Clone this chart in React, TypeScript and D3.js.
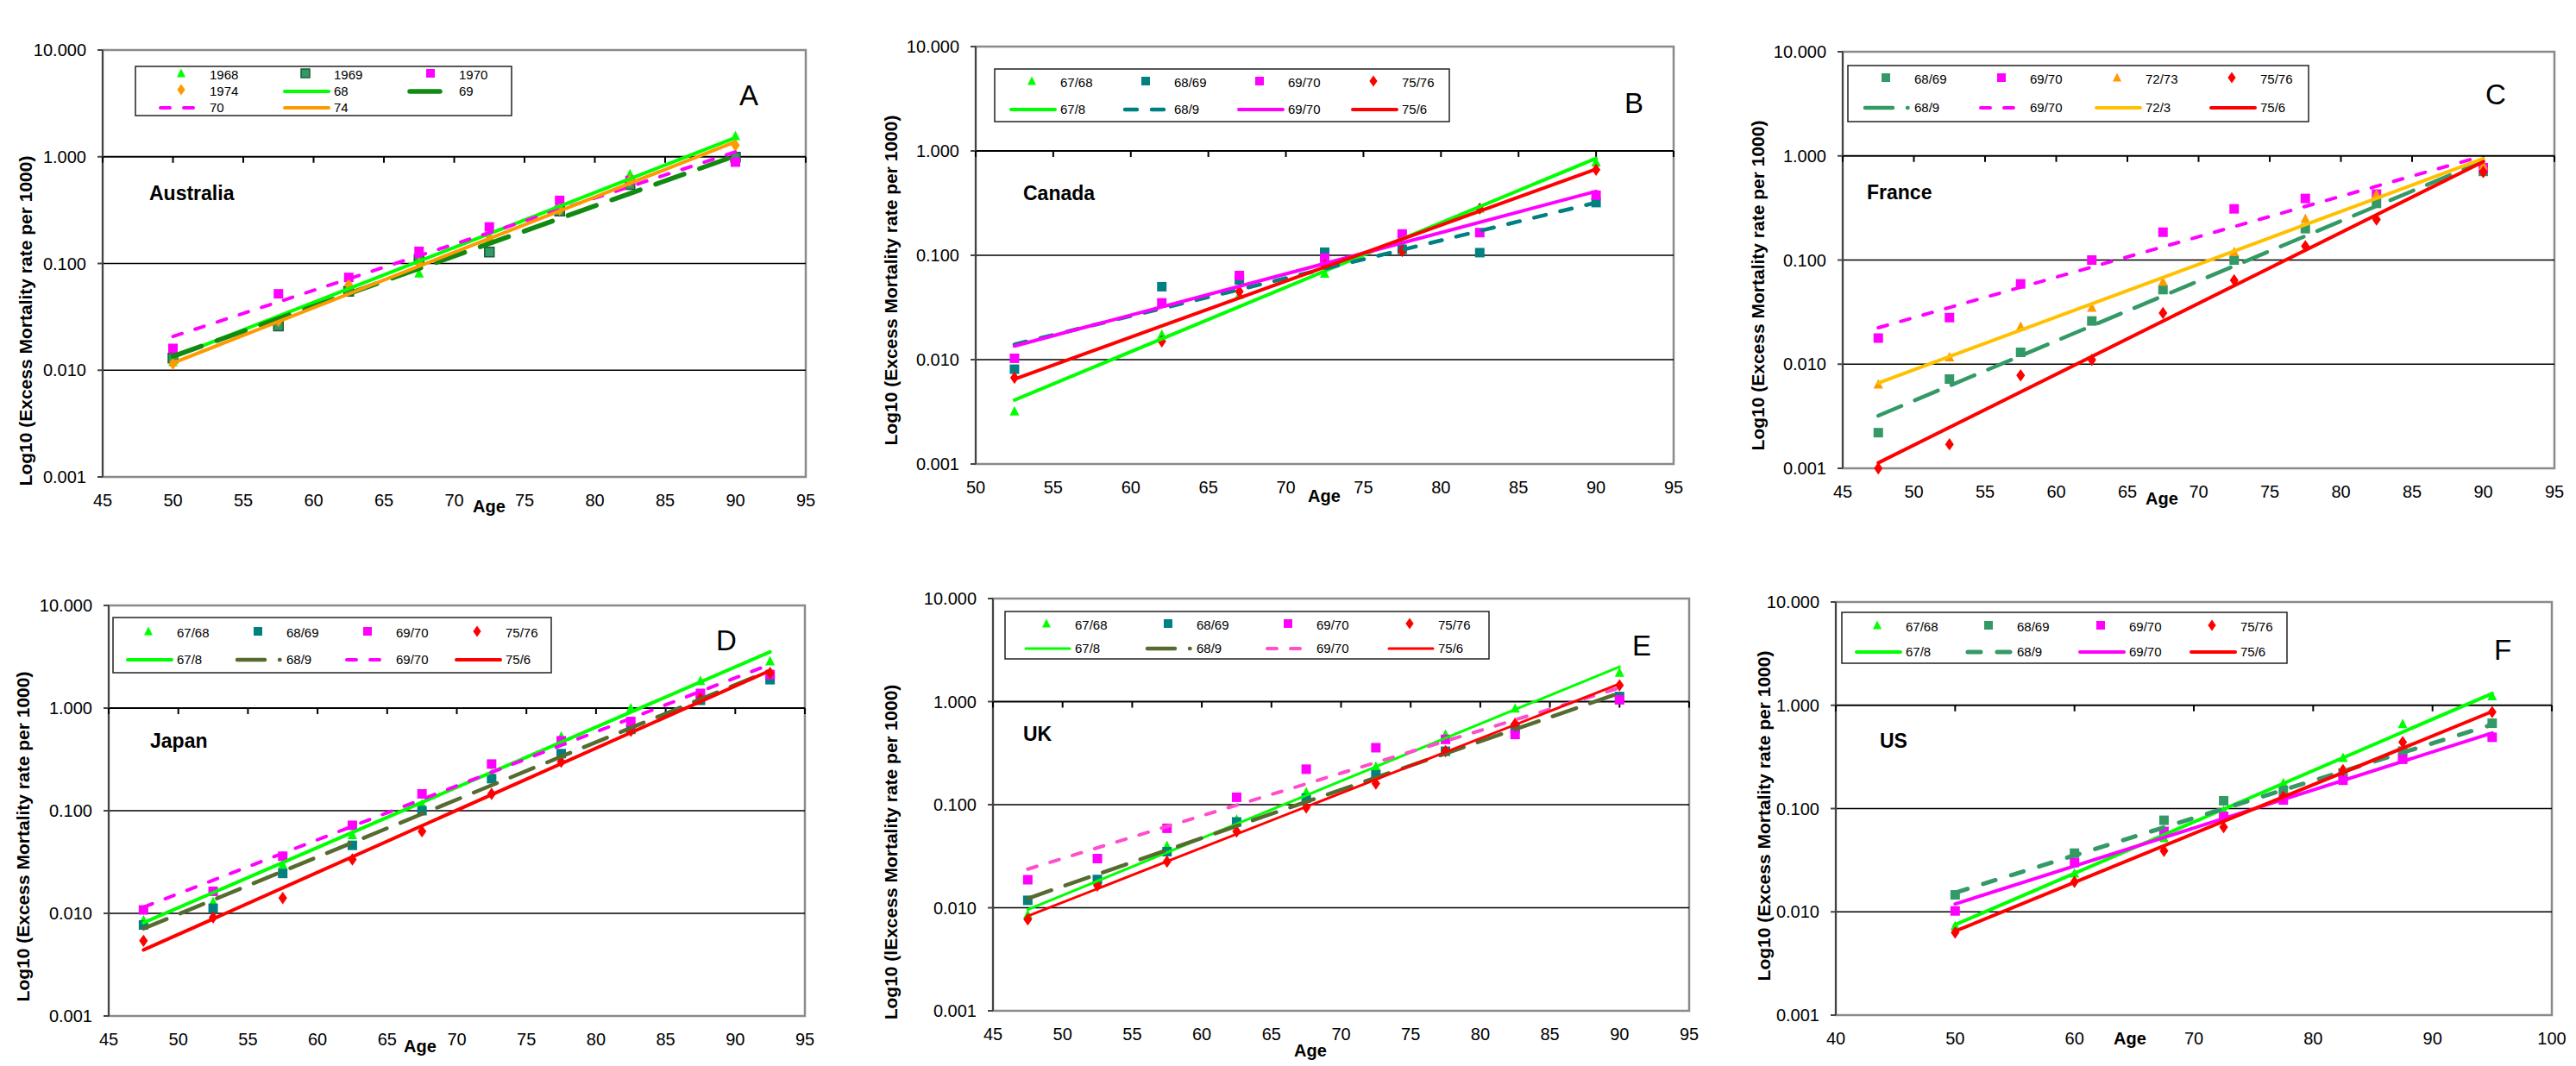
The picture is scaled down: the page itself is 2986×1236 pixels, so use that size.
import React, { useEffect } from 'react';
import * as d3 from 'd3';

const FONT = '"Liberation Sans", Arial, Helvetica, sans-serif';

// colours
const GREEN = '#00FF00';
const SEA = '#339966';
const DKGREEN = '#118A11';
const TEAL = '#008080';
const MAG = '#FF00FF';
const PINK = '#FF4DCC';
const RED = '#FF0000';
const ORANGE = '#FF9900';
const GOLD = '#FFC000';
const OLIVE = '#556B2F';

const yTicks = [0.001, 0.01, 0.1, 1, 10];
const ticks45 = [45, 50, 55, 60, 65, 70, 75, 80, 85, 90, 95];
const ticks50 = [50, 55, 60, 65, 70, 75, 80, 85, 90, 95];
const ticks40 = [40, 50, 60, 70, 80, 90, 100];

// A - Australia
const ausAges = [50, 57.5, 62.5, 67.5, 72.5, 77.5, 82.5, 90];
const aus1968 = [0.012, 0.028, 0.06, 0.081, 0.18, 0.33, 0.69, 1.57];
const aus1969 = [0.013, 0.026, 0.055, 0.11, 0.128, 0.31, 0.55, 0.99];
const aus1970 = [0.016, 0.052, 0.074, 0.13, 0.22, 0.39, 0.6, 0.89];
const aus1974 = [0.0115, 0.029, 0.063, 0.1, 0.166, 0.32, 0.6, 1.28];
const ausFitAges = [50, 90];
const ausFit68 = [0.0132, 1.51];
const ausFit69 = [0.0135, 1.02];
const ausFit70 = [0.0207, 1.11];
const ausFit74 = [0.0117, 1.38];

// B - Canada
const canAges = [52.5, 62, 67, 72.5, 77.5, 82.5, 90];
const can6768 = [0.0032, 0.0174, 0.042, 0.067, 0.13, 0.28, 0.78];
const can6869 = [0.0081, 0.05, 0.058, 0.107, 0.114, 0.106, 0.32];
const can6970 = [0.0103, 0.035, 0.064, 0.094, 0.16, 0.165, 0.376];
const can7576 = [0.0067, 0.015, 0.045, 0.08, 0.11, 0.28, 0.66];
const canFitAges = [52.5, 90];
const canFit678 = [0.0041, 0.85];
const canFit689 = [0.014, 0.32];
const canFit6970 = [0.0135, 0.41];
const canFit756 = [0.0065, 0.67];

// C - France
const fraAges = [47.5, 52.5, 57.5, 62.5, 67.5, 72.5, 77.5, 82.5, 90];
const fra6869 = [0.0022, 0.0072, 0.013, 0.026, 0.052, 0.1, 0.2, 0.35, 0.71];
const fra6970 = [0.0178, 0.028, 0.059, 0.1, 0.185, 0.31, 0.39, 0.43, 0.77];
const fra7273 = [0.0064, 0.0117, 0.023, 0.035, 0.062, 0.12, 0.25, 0.43, 0.81];
const fra7576 = [0.001, 0.0017, 0.0078, 0.011, 0.031, 0.064, 0.136, 0.245, 0.7];
const fraFitAges = [47.5, 90];
const fraFit689 = [0.0032, 0.89];
const fraFit6970 = [0.0224, 1.0];
const fraFit723 = [0.0066, 0.94];
const fraFit756 = [0.00113, 0.88];

// D - Japan
const japAges = [47.5, 52.5, 57.5, 62.5, 67.5, 72.5, 77.5, 82.5, 87.5, 92.5];
const jap6768 = [0.0086, 0.013, 0.03, 0.058, 0.116, 0.23, 0.53, 1.0, 1.85, 2.87];
const jap6869 = [0.0077, 0.0112, 0.0245, 0.046, 0.1, 0.205, 0.36, 0.62, 1.19, 1.89];
const jap6970 = [0.0108, 0.0164, 0.036, 0.072, 0.146, 0.285, 0.48, 0.74, 1.39, 2.12];
const jap7576 = [0.0054, 0.0091, 0.0141, 0.0335, 0.063, 0.146, 0.3, 0.6, 1.24, 2.2];
const japFitAges = [47.5, 92.5];
const japFit678 = [0.0081, 3.53];
const japFit689 = [0.0071, 2.32];
const japFit6970 = [0.0115, 2.66];
const japFit756 = [0.0044, 2.32];

// E - UK
const ukAges = [47.5, 52.5, 57.5, 62.5, 67.5, 72.5, 77.5, 82.5, 90];
const uk6768 = [0.0086, 0.0184, 0.04, 0.072, 0.133, 0.235, 0.48, 0.86, 1.91];
const uk6869 = [0.0118, 0.0188, 0.035, 0.068, 0.116, 0.195, 0.33, 0.55, 1.12];
const uk6970 = [0.0187, 0.03, 0.059, 0.118, 0.221, 0.357, 0.43, 0.48, 1.04];
const uk7576 = [0.0077, 0.0164, 0.028, 0.055, 0.094, 0.16, 0.33, 0.61, 1.44];
const ukFitAges = [47.5, 90];
const ukFit678 = [0.0096, 2.18];
const ukFit689 = [0.0123, 1.21];
const ukFit6970 = [0.0237, 1.36];
const ukFit756 = [0.0083, 1.49];

// F - US
const usAges = [50, 60, 67.5, 72.5, 77.5, 82.5, 87.5, 95];
const us6768 = [0.0073, 0.0236, 0.052, 0.096, 0.177, 0.31, 0.66, 1.23];
const us6869 = [0.0146, 0.037, 0.077, 0.119, 0.15, 0.22, 0.36, 0.67];
const us6970 = [0.0102, 0.03, 0.06, 0.084, 0.121, 0.188, 0.3, 0.49];
const us7576 = [0.0063, 0.0195, 0.039, 0.066, 0.13, 0.236, 0.44, 0.86];
const usFitAges = [50, 95];
const usFit678 = [0.0075, 1.3];
const usFit689 = [0.0153, 0.65];
const usFit6970 = [0.0119, 0.54];
const usFit756 = [0.0065, 0.87];

type Marker = 'tri' | 'sq' | 'dia';
type PointSeries = { label: string; values: number[]; marker: Marker; color: string; edge?: string };
type FitSeries = { label: string; values: number[]; color: string; width: number; dash?: string; legendDash?: string };

// dash patterns (round caps lengthen each dash by the stroke width)
const DASH = '11,16';
const LONGDASH = '35,19';
const LONGDASH2 = '29,17';
const LONGDASHDOT = '32,17,0.5,15';
const YLABEL = 'Log10 (Excess Mortality rate per 1000)';

const panels = [
  {
    letter: 'A', country: 'Australia', ages: ausAges, fitAges: ausFitAges, xDomain: [45, 95], xTicks: ticks45,
    left: 119, right: 934, top: 58, bottom: 553,
    yLab: [29, 372], age: [567, 594], ctry: [173, 232], let: [868, 122],
    box: [157, 77, 436, 57], cols: [243, 387, 532], rows: [87, 106, 125], ylabel: YLABEL,
    points: [
      { label: '1968', values: aus1968, marker: 'tri', color: GREEN },
      { label: '1969', values: aus1969, marker: 'sq', color: SEA, edge: '#1B5E38' },
      { label: '1970', values: aus1970, marker: 'sq', color: MAG },
      { label: '1974', values: aus1974, marker: 'dia', color: ORANGE },
    ] as PointSeries[],
    fits: [
      { label: '68', values: ausFit68, color: GREEN, width: 4 },
      { label: '69', values: ausFit69, color: DKGREEN, width: 5.5, dash: LONGDASH },
      { label: '70', values: ausFit70, color: MAG, width: 4, dash: DASH },
      { label: '74', values: ausFit74, color: ORANGE, width: 4 },
    ] as FitSeries[],
  },
  {
    letter: 'B', country: 'Canada', ages: canAges, fitAges: canFitAges, xDomain: [50, 95], xTicks: ticks50,
    left: 1131, right: 1940, top: 54, bottom: 538,
    yLab: [1032, 325], age: [1535, 582], ctry: [1186, 232], let: [1894, 131],
    box: [1153, 80, 527, 61], cols: [1229, 1361, 1493, 1625], rows: [96, 127], ylabel: YLABEL,
    points: [
      { label: '67/68', values: can6768, marker: 'tri', color: GREEN },
      { label: '68/69', values: can6869, marker: 'sq', color: TEAL },
      { label: '69/70', values: can6970, marker: 'sq', color: MAG },
      { label: '75/76', values: can7576, marker: 'dia', color: RED },
    ] as PointSeries[],
    fits: [
      { label: '67/8', values: canFit678, color: GREEN, width: 4 },
      { label: '68/9', values: canFit689, color: TEAL, width: 4.5, dash: '14,17' },
      { label: '69/70', values: canFit6970, color: MAG, width: 4 },
      { label: '75/6', values: canFit756, color: RED, width: 4 },
    ] as FitSeries[],
  },
  {
    letter: 'C', country: 'France', ages: fraAges, fitAges: fraFitAges, xDomain: [45, 95], xTicks: ticks45,
    left: 2136, right: 2961, top: 60, bottom: 543,
    yLab: [2037, 331], age: [2506, 585], ctry: [2164, 231], let: [2893, 121],
    box: [2142, 76, 534, 65], cols: [2219, 2353, 2487, 2620], rows: [92, 125], ylabel: YLABEL,
    points: [
      { label: '68/69', values: fra6869, marker: 'sq', color: SEA },
      { label: '69/70', values: fra6970, marker: 'sq', color: MAG },
      { label: '72/73', values: fra7273, marker: 'tri', color: ORANGE },
      { label: '75/76', values: fra7576, marker: 'dia', color: RED },
    ] as PointSeries[],
    fits: [
      { label: '68/9', values: fraFit689, color: SEA, width: 4.5, dash: LONGDASH2, legendDash: LONGDASHDOT },
      { label: '69/70', values: fraFit6970, color: MAG, width: 4, dash: DASH },
      { label: '72/3', values: fraFit723, color: GOLD, width: 4 },
      { label: '75/6', values: fraFit756, color: RED, width: 4 },
    ] as FitSeries[],
  },
  {
    letter: 'D', country: 'Japan', ages: japAges, fitAges: japFitAges, xDomain: [45, 95], xTicks: ticks45,
    left: 126, right: 933, top: 702, bottom: 1178,
    yLab: [26, 970], age: [487, 1220], ctry: [174, 867], let: [842, 754],
    box: [131, 716, 508, 64], cols: [205, 332, 459, 586], rows: [734, 765], ylabel: YLABEL,
    points: [
      { label: '67/68', values: jap6768, marker: 'tri', color: GREEN },
      { label: '68/69', values: jap6869, marker: 'sq', color: TEAL },
      { label: '69/70', values: jap6970, marker: 'sq', color: MAG },
      { label: '75/76', values: jap7576, marker: 'dia', color: RED },
    ] as PointSeries[],
    fits: [
      { label: '67/8', values: japFit678, color: GREEN, width: 4 },
      { label: '68/9', values: japFit689, color: OLIVE, width: 4.5, dash: LONGDASH2, legendDash: LONGDASHDOT },
      { label: '69/70', values: japFit6970, color: MAG, width: 4, dash: DASH },
      { label: '75/6', values: japFit756, color: RED, width: 4 },
    ] as FitSeries[],
  },
  {
    letter: 'E', country: 'UK', ages: ukAges, fitAges: ukFitAges, xDomain: [45, 95], xTicks: ticks45,
    left: 1151, right: 1958, top: 694, bottom: 1172,
    yLab: [1032, 988], age: [1519, 1225], ctry: [1186, 859], let: [1903, 760],
    box: [1165, 709, 561, 55], cols: [1246, 1387, 1526, 1667], rows: [725, 752],
    ylabel: 'Log10 (lExcess Mortality rate per 1000)',
    points: [
      { label: '67/68', values: uk6768, marker: 'tri', color: GREEN },
      { label: '68/69', values: uk6869, marker: 'sq', color: TEAL },
      { label: '69/70', values: uk6970, marker: 'sq', color: MAG },
      { label: '75/76', values: uk7576, marker: 'dia', color: RED },
    ] as PointSeries[],
    fits: [
      { label: '67/8', values: ukFit678, color: GREEN, width: 3 },
      { label: '68/9', values: ukFit689, color: OLIVE, width: 4.5, dash: LONGDASH2, legendDash: LONGDASHDOT },
      { label: '69/70', values: ukFit6970, color: PINK, width: 4, dash: DASH },
      { label: '75/6', values: ukFit756, color: RED, width: 3 },
    ] as FitSeries[],
  },
  {
    letter: 'F', country: 'US', ages: usAges, fitAges: usFitAges, xDomain: [40, 100], xTicks: ticks40,
    left: 2128, right: 2958, top: 698, bottom: 1177,
    yLab: [2044, 946], age: [2469, 1211], ctry: [2179, 867], let: [2901, 765],
    box: [2135, 710, 516, 59], cols: [2209, 2338, 2468, 2597], rows: [727, 756], ylabel: YLABEL,
    points: [
      { label: '67/68', values: us6768, marker: 'tri', color: GREEN },
      { label: '68/69', values: us6869, marker: 'sq', color: SEA },
      { label: '69/70', values: us6970, marker: 'sq', color: MAG },
      { label: '75/76', values: us7576, marker: 'dia', color: RED },
    ] as PointSeries[],
    fits: [
      { label: '67/8', values: usFit678, color: GREEN, width: 4 },
      { label: '68/9', values: usFit689, color: SEA, width: 5, dash: '15,19' },
      { label: '69/70', values: usFit6970, color: MAG, width: 4 },
      { label: '75/6', values: usFit756, color: RED, width: 4 },
    ] as FitSeries[],
  },
];

function markerPath(m: Marker, s: number) {
  if (m === 'tri') return `M0,${-s * 0.55}L${s * 0.5},${s * 0.45}L${-s * 0.5},${s * 0.45}Z`;
  if (m === 'sq') return `M${-s / 2},${-s / 2}h${s}v${s}h${-s}Z`;
  return `M0,${-s * 0.6}L${s * 0.42},0L0,${s * 0.6}L${-s * 0.42},0Z`;
}

const Panel = ({ p }: { p: any }) => {
  const x = d3.scaleLinear().domain(p.xDomain).range([p.left, p.right]);
  const y = d3.scaleLog().domain([0.001, 10]).range([p.bottom, p.top]);
  const line = d3.line<number>().x((_, i) => x(p.fitAges[i])).y(d => y(d));
  const fmt = d3.format('.3f');

  // legend entries, row-major
  const entries = [...p.points.map((s: any) => ({ ...s, kind: 'pt' })), ...p.fits.map((s: any) => ({ ...s, kind: 'ln' }))];
  const nc = p.cols.length;

  return (
    <g>
      <rect x={p.left} y={p.top} width={p.right - p.left} height={p.bottom - p.top} fill="#fff" stroke="#8a8a8a" strokeWidth={2.5} />
      {yTicks.slice(1, -1).map(t => (
        <line key={t} x1={p.left} x2={p.right} y1={y(t)} y2={y(t)} stroke="#000" strokeWidth={t === 1 ? 2 : 1.5} />
      ))}
      <line x1={p.left} x2={p.left} y1={p.top} y2={p.bottom} stroke="#444" strokeWidth={2} />
      {yTicks.map(t => (
        <g key={t}>
          <line x1={p.left - 6} x2={p.left} y1={y(t)} y2={y(t)} stroke="#444" strokeWidth={2} />
          <text x={p.left - 19} y={y(t)} dy="0.36em" textAnchor="end" fontSize={20} fontFamily={FONT}>{fmt(t)}</text>
        </g>
      ))}
      {p.xTicks.map((t: number) => (
        <g key={t}>
          <line x1={x(t)} x2={x(t)} y1={y(1)} y2={y(1) + 7} stroke="#000" strokeWidth={2} />
          <text x={x(t)} y={p.bottom + 34} textAnchor="middle" fontSize={20} fontFamily={FONT}>{t}</text>
        </g>
      ))}

      {p.points.map((s: PointSeries) => (
        <g key={s.label}>
          {s.values.map((v, i) => (
            <path key={i} d={markerPath(s.marker, s.marker === 'dia' ? 12 : 11)}
              transform={`translate(${x(p.ages[i])},${y(v)})`}
              fill={s.color} stroke={s.edge || 'none'} strokeWidth={1.5} />
          ))}
        </g>
      ))}
      {p.fits.map((s: FitSeries) => (
        <path key={s.label} d={line(s.values) || ''} fill="none" stroke={s.color} strokeWidth={s.width}
          strokeDasharray={s.dash} strokeLinecap="round" />
      ))}

      <rect x={p.box[0]} y={p.box[1]} width={p.box[2]} height={p.box[3]} fill="#fff" stroke="#222" strokeWidth={1.5} />
      {entries.map((e: any, i: number) => {
        const tx = p.cols[i % nc];
        const ty = p.rows[Math.floor(i / nc)];
        return (
          <g key={i}>
            {e.kind === 'pt' ? (
              <path d={markerPath(e.marker, e.marker === 'dia' ? 11 : 10)} transform={`translate(${tx - 33},${ty - 2})`}
                fill={e.color} stroke={e.edge || 'none'} strokeWidth={1.5} />
            ) : (
              <line x1={tx - 57} x2={tx - 6} y1={ty} y2={ty} stroke={e.color} strokeWidth={e.width}
                strokeDasharray={e.legendDash || e.dash} strokeLinecap="round" />
            )}
            <text x={tx} y={ty} dy="0.36em" fontSize={15} fontFamily={FONT}>{e.label}</text>
          </g>
        );
      })}

      <text x={p.ctry[0]} y={p.ctry[1]} fontSize={23} fontWeight="bold" fontFamily={FONT}>{p.country}</text>
      <text x={p.let[0]} y={p.let[1]} textAnchor="middle" fontSize={33} fontFamily={FONT}>{p.letter}</text>
      <text x={p.age[0]} y={p.age[1]} textAnchor="middle" fontSize={20} fontWeight="bold" fontFamily={FONT}>Age</text>
      <text transform={`translate(${p.yLab[0]},${p.yLab[1]}) rotate(-90)`} textAnchor="middle" dy="0.36em"
        fontSize={21} fontWeight="bold" fontFamily={FONT}>{p.ylabel}</text>
    </g>
  );
};

const App = () => {
  useEffect(() => {
    document.body.style.margin = '0';
  }, []);
  return (
    <svg width={2986} height={1236} style={{ position: 'absolute', left: 0, top: 0, background: '#fff' }}>
      <rect width={2986} height={1236} fill="#fff" />
      {panels.map(p => <Panel key={p.letter} p={p} />)}
    </svg>
  );
};

export default App;
